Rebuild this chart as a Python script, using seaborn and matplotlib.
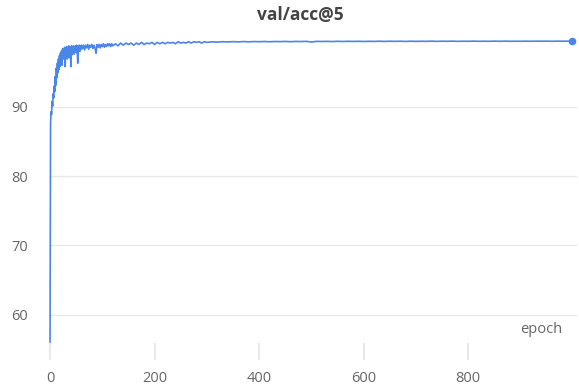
import numpy as np
import pandas as pd
import matplotlib
matplotlib.use("Agg")
import matplotlib.pyplot as plt
import seaborn as sns

# ---- data ----
epochs_a = list(range(0, 61))
acc_a = [56.0, 87.6, 89.3, 88.9, 90.8, 90.1, 91.9, 91.3, 93.0, 92.2,
         94.4, 93.1, 95.6, 94.2, 96.3, 94.9, 96.9, 95.4, 97.4, 95.8,
         97.8, 96.2, 98.1, 96.0, 98.4, 96.9, 98.3, 97.0, 98.6, 95.8,
         98.2, 97.2, 98.7, 96.9, 98.5, 97.4, 98.8, 97.1, 98.6, 97.6,
         95.8, 98.8, 97.5, 98.7, 97.9, 98.8, 97.6, 98.7, 98.0, 98.8,
         97.8, 98.9, 98.1, 96.3, 98.8, 98.2, 98.9, 98.0, 98.8, 98.3,
         98.9]
epochs_b = list(range(62, 121, 2))
acc_b = [98.4, 98.9, 98.2, 98.9, 98.5, 99.0, 98.3, 98.9, 98.6, 99.0,
         98.4, 98.9, 98.5, 97.7, 99.0, 98.6, 99.0, 98.5, 99.0, 98.7,
         99.1, 98.6, 99.0, 98.7, 99.1, 98.8, 99.1, 98.7, 99.1, 98.8]
epochs_c = list(range(125, 301, 5))
acc_c = [99.1, 98.8, 99.2, 98.9, 99.2, 99.0, 99.2, 98.9, 99.2, 99.0,
         99.3, 99.0, 99.2, 99.1, 99.3, 99.0, 99.3, 99.1, 99.3, 99.1,
         99.3, 99.2, 99.3, 99.1, 99.4, 99.2, 99.3, 99.2, 99.4, 99.2,
         99.4, 99.3, 99.4, 99.2, 99.4, 99.3]
epochs_d = list(range(310, 991, 10)) + [999]
acc_d = [99.38, 99.34, 99.40, 99.36, 99.41, 99.37, 99.42, 99.38, 99.42, 99.40,
         99.43, 99.39, 99.43, 99.41, 99.44, 99.40, 99.44, 99.42, 99.45, 99.36,
         99.45, 99.43, 99.45, 99.42, 99.46, 99.43, 99.46, 99.44, 99.46, 99.43,
         99.46, 99.44, 99.47, 99.44, 99.47, 99.45, 99.47, 99.44, 99.47, 99.45,
         99.47, 99.45, 99.48, 99.45, 99.47, 99.46, 99.48, 99.45, 99.47, 99.46,
         99.48, 99.46, 99.47, 99.46, 99.48, 99.46, 99.48, 99.46, 99.47, 99.46,
         99.48, 99.46, 99.48, 99.47, 99.48, 99.46, 99.48, 99.47, 99.48,
         99.47]

x_ticks = [0, 200, 400, 600, 800]
y_ticks = [60, 70, 80, 90]
title = "val/acc@5"
x_label = "epoch"

df = pd.DataFrame({
    "epoch": epochs_a + epochs_b + epochs_c + epochs_d,
    "acc": acc_a + acc_b + acc_c + acc_d,
})

sns.set_theme(style="white")
plt.rcParams["font.family"] = ["Open Sans", "DejaVu Sans"]

line_color = "#4a86e8"
text_color = "#666666"
grid_color = "#e8e8e8"

fig = plt.figure(figsize=(5.79, 3.88), dpi=100)
ax = fig.add_axes([49 / 579, 1 - 343 / 388, 528 / 579, 311 / 388])

sns.lineplot(data=df, x="epoch", y="acc", ax=ax, color=line_color,
             linewidth=1.2, estimator=None)
last = df.iloc[[-1]]
sns.scatterplot(data=last, x="epoch", y="acc", ax=ax, color=line_color,
                s=30, edgecolor=line_color, linewidth=0, zorder=5)

ax.set_xlim(-2, 1008)
ax.set_ylim(55.9, 100.8)

for s in ax.spines.values():
    s.set_visible(False)

ax.set_yticks(y_ticks)
ax.set_xticks(x_ticks)
ax.yaxis.grid(True, color=grid_color, linewidth=1)
ax.xaxis.grid(False)
ax.tick_params(axis="y", length=0, pad=15, labelsize=10.5, labelcolor=text_color)
ax.tick_params(axis="x", length=12.5, width=1.2, color="#e4e4e4", direction="out",
               pad=8, labelsize=10.5, labelcolor=text_color, bottom=True)
ax.set_xlabel("")
ax.set_ylabel("")

fig.text(300 / 579, 1 - 20 / 388, title, ha="center", va="baseline",
         fontsize=12.5, fontweight="bold", color="#444444")
ax.annotate(x_label, xy=(513 / 528, 0), xycoords="axes fraction",
            xytext=(0, 4), textcoords="offset points",
            ha="right", va="bottom", fontsize=10.5, color=text_color)

fig.savefig("out.png", dpi=100)
